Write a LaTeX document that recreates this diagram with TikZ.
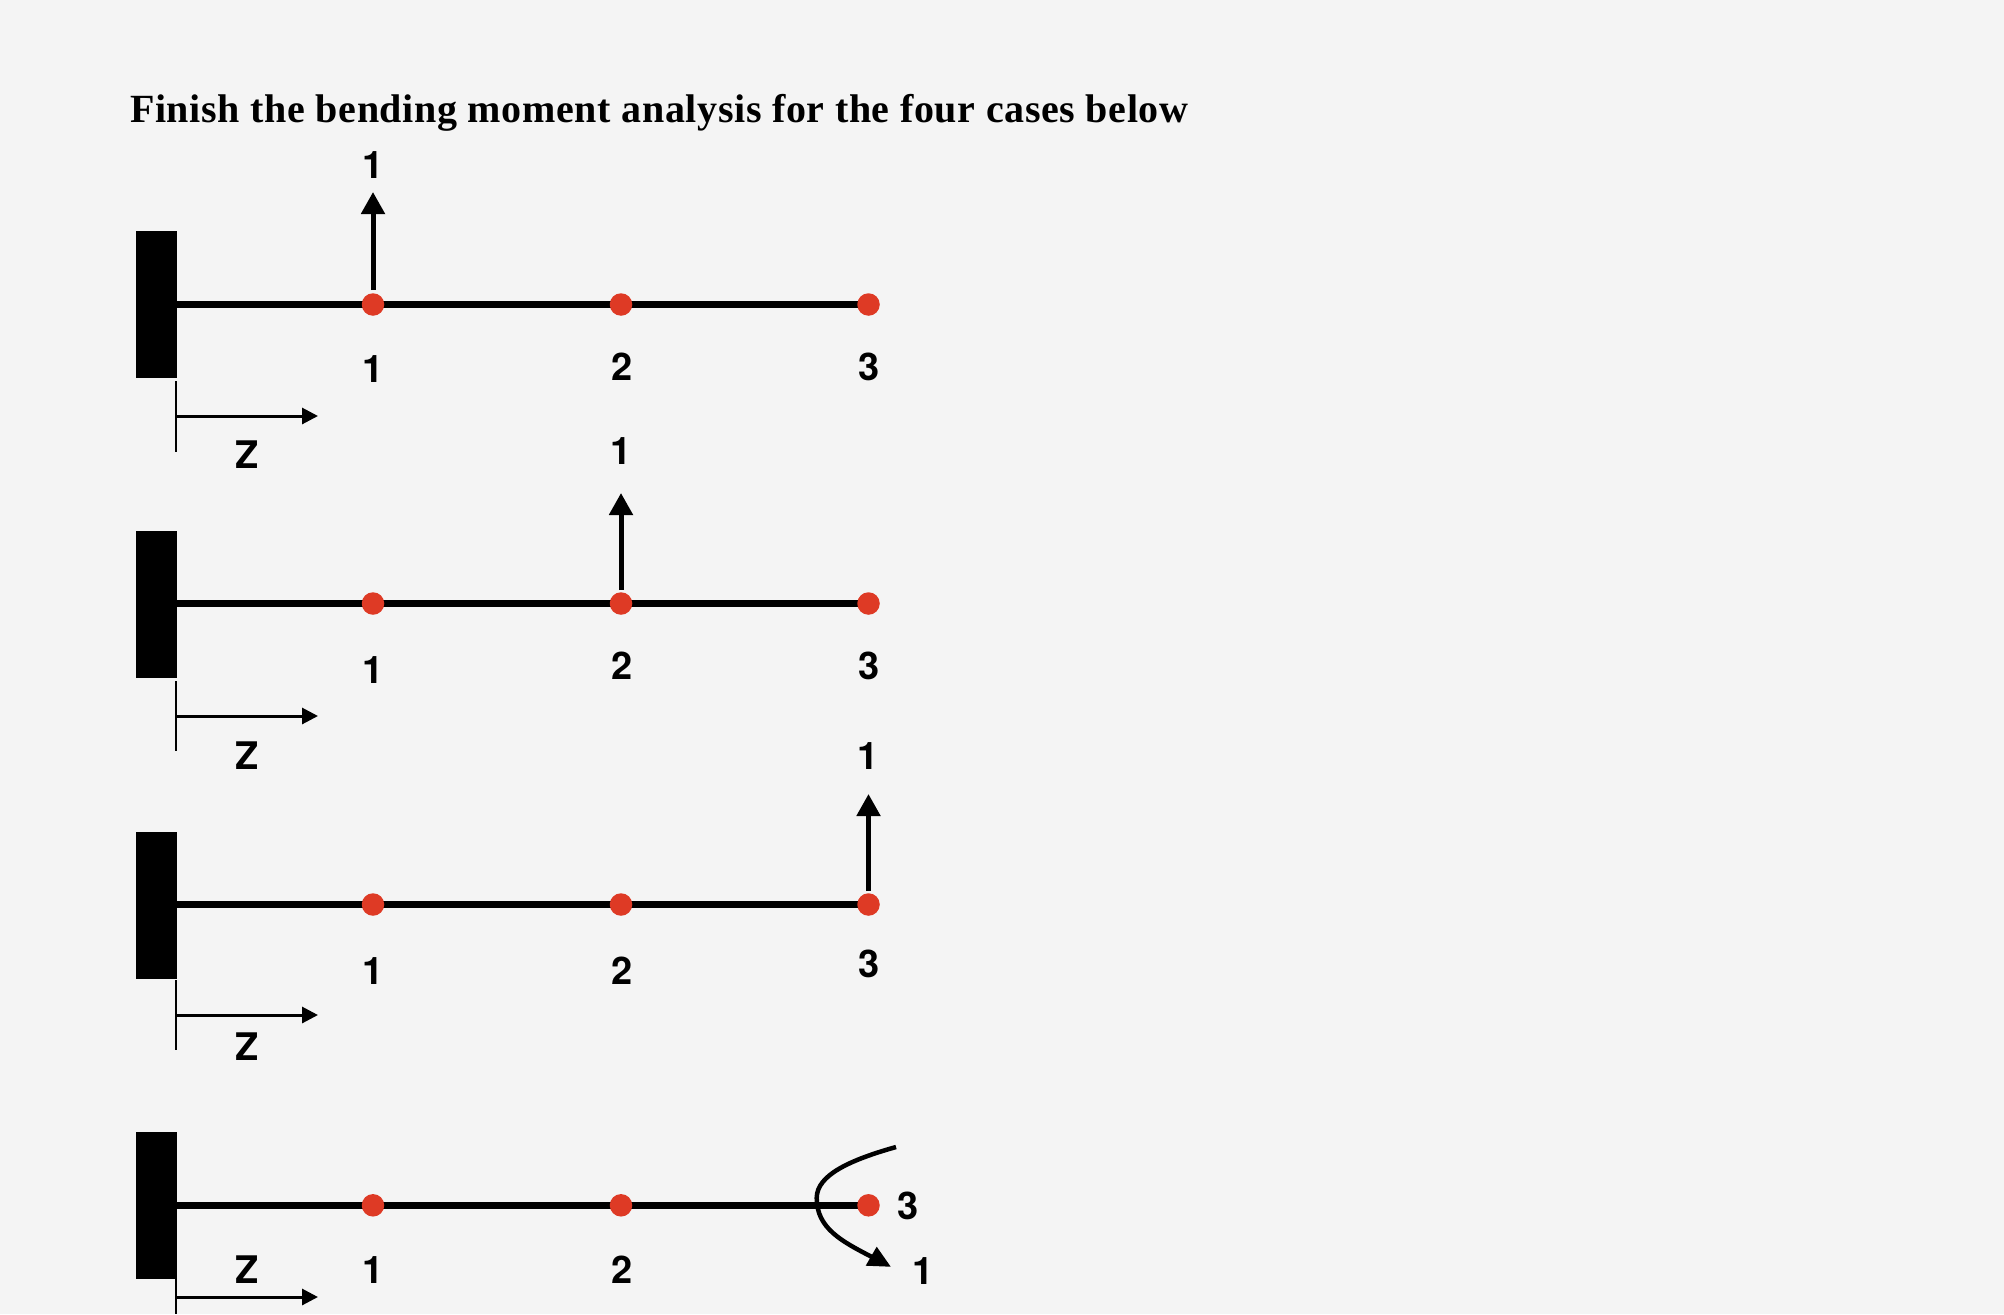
\documentclass[tikz,border=0pt]{standalone}
\usepackage{fontspec}
\setmainfont{TeX Gyre Heros}
\newfontfamily\titlefont[LetterSpace=1.55]{Liberation Serif}
\usetikzlibrary{arrows.meta}
\definecolor{bgc}{HTML}{F4F4F4}
\definecolor{dotc}{HTML}{DE3A25}
\tikzset{
  x=1pt,y=-1pt,
  wallbox/.style={fill=black,draw=none,minimum width=40.5pt,minimum height=147pt,inner sep=0pt,outer sep=0pt},
  beamline/.style={line width=7pt},
  joint/.style={circle,fill=dotc,draw=none,minimum size=22.5pt,inner sep=0pt},
  lab/.style={font=\fontsize{38}{40}\selectfont\bfseries,inner sep=0pt,text height=26.5pt,text depth=0pt,anchor=center},
  force/.style={line width=5pt,-{Triangle[length=22pt,width=23pt]},shorten >=0pt},
  zaxis/.style={line width=3pt,-{Triangle[length=16pt,width=16pt]}},
  ztick/.style={line width=1.6pt},
  title/.style={font=\titlefont\fontsize{40}{44}\selectfont\bfseries,inner sep=0pt,anchor=base west}
}
% #1 name, #2 beam y, #3 wall centre y
\newcommand{\casebeam}[3]{%
  \node[wallbox] (w#1) at (156.25,#3) {};
  \coordinate (b#1) at (w#1.east |- 0,#2);
  \coordinate (pa#1) at (373,#2);
  \coordinate (pb#1) at (621,#2);
  \coordinate (pc#1) at (868.5,#2);
  \draw[beamline] (b#1) -- (pc#1);
  \node[joint] (ja#1) at (pa#1) {};
  \node[joint] (jb#1) at (pb#1) {};
  \node[joint] (jc#1) at (pc#1) {};
}
\newcommand{\zmark}[4]{% name, tick top, tick bottom, arrow y
  \coordinate (tt#1) at (176,#2);
  \coordinate (tb#1) at (176,#3);
  \coordinate (zs#1) at (176,#4);
  \coordinate (ze#1) at (318,#4);
  \draw[ztick] (tt#1) -- (tb#1);
  \draw[zaxis] (zs#1) -- (ze#1);
}
\begin{document}
\begin{tikzpicture}
\useasboundingbox[fill=bgc] (0,0) rectangle (2004,1314);
\node[title] (ttl) at (130,122.5) {Finish the bending moment analysis for the four cases below};

% case 1
\casebeam{1}{304.5}{304}
\node[lab] (f1) at (373.5,165) {1};
\coordinate (fb1) at (373,290);
\coordinate (ft1) at (373,192);
\draw[force] (fb1) -- (ft1);
\node[lab] (la1) at (373.5,369.5) {1};
\node[lab] (lb1) at (622,367) {2};
\node[lab] (lc1) at (869,367) {3};
\zmark{1}{381}{452}{416}
\node[lab] (z1) at (247,455) {Z};

% case 2
\casebeam{2}{603.5}{604}
\node[lab] (f2) at (621.5,451) {1};
\coordinate (fb2) at (621,590);
\coordinate (ft2) at (621,493);
\draw[force] (fb2) -- (ft2);
\node[lab] (la2) at (373.5,670) {1};
\node[lab] (lb2) at (622,666) {2};
\node[lab] (lc2) at (869,666) {3};
\zmark{2}{681}{751}{716}
\node[lab] (z2) at (247,756) {Z};

% case 3
\casebeam{3}{904.5}{905}
\node[lab] (f3) at (868.5,756.5) {1};
\coordinate (fb3) at (868.5,891);
\coordinate (ft3) at (868.5,794);
\draw[force] (fb3) -- (ft3);
\node[lab] (la3) at (373.5,971) {1};
\node[lab] (lb3) at (622,971) {2};
\node[lab] (lc3) at (869,964) {3};
\zmark{3}{980}{1050}{1015}
\node[lab] (z3) at (247,1047) {Z};

% case 4
\casebeam{4}{1205.3}{1205.5}
\node[lab] (la4) at (373.5,1270) {1};
\node[lab] (lb4) at (622,1270) {2};
\node[lab] (lc4) at (908.5,1206) {3};
\node[lab] (f4) at (923.5,1271) {1};
\node[lab] (z4) at (247,1270) {Z};
\zmark{4}{1279}{1314}{1297}
\coordinate (ms) at (896,1147);
\coordinate (mm) at (816.7,1198);
\coordinate (me) at (872,1257);
\coordinate (ha) at (876.7,1246.7);
\coordinate (hb) at (865.7,1265.7);
\coordinate (hc) at (890.7,1266.7);
\draw[line width=4.5pt,line cap=butt] (ms) .. controls (850,1160) and (816.7,1175) .. (mm)
  .. controls (816.7,1228) and (841,1241) .. (me);
\fill (ha) -- (hc) -- (hb) -- cycle;
\end{tikzpicture}
\end{document}
